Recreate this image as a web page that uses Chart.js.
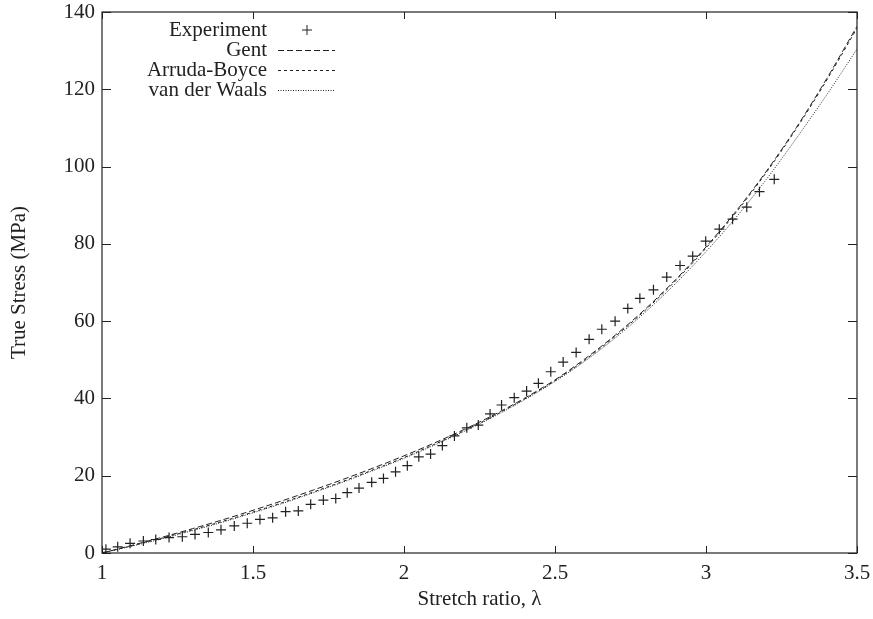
<!DOCTYPE html>
<html lang="en">
  <head>
    <meta charset="UTF-8">
    <title>True Stress vs Stretch ratio</title>
    <script src="https://cdn.jsdelivr.net/npm/chart.js"></script>
    <style>
      body { margin: 0; background: #fff; }
      #plot { display: block; }
    </style>
  </head>
  <body>
    <canvas id="plot" width="873" height="619"></canvas>
    <script>
      // experiment points
      var expStretch = [1.0, 1.013, 1.052, 1.093, 1.137, 1.178, 1.222, 1.266, 1.308, 1.352, 1.394, 1.438, 1.481,
        1.523, 1.565, 1.608, 1.650, 1.691, 1.733, 1.774, 1.812, 1.851, 1.893, 1.932, 1.972, 2.011, 2.049,
        2.088, 2.127, 2.167, 2.208, 2.246, 2.285, 2.323, 2.365, 2.406, 2.445, 2.486, 2.527, 2.570, 2.613,
        2.655, 2.699, 2.741, 2.781, 2.826, 2.870, 2.914, 2.956, 2.999, 3.044, 3.088, 3.135, 3.177, 3.226];
      var expStress = [0.2, 1.0, 1.6, 2.5, 3.1, 3.5, 4.0, 4.2, 4.8, 5.3, 6.0, 7.0, 7.7,
        8.7, 9.1, 10.7, 10.9, 12.6, 13.7, 14.1, 15.6, 16.8, 18.3, 19.3, 21.0, 22.6, 24.9,
        25.6, 27.8, 30.3, 32.4, 33.1, 36.0, 38.3, 40.2, 41.9, 43.9, 46.9, 49.4, 51.9, 55.3,
        57.9, 60.0, 63.3, 65.9, 68.1, 71.4, 74.4, 76.8, 80.7, 83.8, 86.4, 89.5, 93.5, 96.7];

      // model curves
      var modelStretch = [1.0, 1.1, 1.2, 1.3, 1.4, 1.5, 1.6, 1.7, 1.8, 1.9, 2.0, 2.1, 2.2, 2.3, 2.4,
        2.5, 2.6, 2.7, 2.8, 2.9, 3.0, 3.1, 3.2, 3.3, 3.4, 3.5];
      var gentStress = [0, 2.0, 4.1, 6.3, 8.6, 11.05, 13.6, 16.3, 19.1, 22.05, 25.15, 28.45, 32.0, 35.85, 40.1,
        44.8, 50.3, 56.4, 63.2, 70.8, 79.2, 88.5, 98.8, 110.2, 122.8, 136.3];
      var arrudaStress = [0, 1.9, 3.9, 6.0, 8.2, 10.6, 13.1, 15.8, 18.6, 21.6, 24.7, 28.1, 31.7, 35.6, 39.9,
        44.6, 50.0, 56.1, 62.9, 70.5, 78.9, 88.2, 98.5, 109.9, 122.4, 135.8];
      var waalsStress = [0, 1.8, 3.7, 5.8, 8.0, 10.4, 12.9, 15.6, 18.4, 21.4, 24.5, 27.9, 31.5, 35.4, 39.7,
        44.4, 49.7, 55.7, 62.4, 69.8, 78.0, 86.9, 96.7, 107.4, 118.6, 130.4];

      var seriesNames = ["Experiment", "Gent", "Arruda-Boyce", "van der Waals"];
      var xTicks = [1, 1.5, 2, 2.5, 3, 3.5];
      var yTicks = [0, 20, 40, 60, 80, 100, 120, 140];

      var ink = '#222';
      var fontFam = '"Liberation Serif", "DejaVu Serif", serif';
      var fontSize = 21;

      function pairs(xs, ys) {
        return xs.map(function (x, i) { return { x: x, y: ys[i] }; });
      }

      function curve(label, ys, dash) {
        return {
          label: label,
          type: 'line',
          data: pairs(modelStretch, ys),
          borderColor: ink,
          borderWidth: 1,
          borderDash: dash,
          pointRadius: 0,
          fill: false,
          cubicInterpolationMode: 'monotone'
        };
      }

      // gnuplot style frame, inward ticks and legend
      var framePlugin = {
        id: 'frame',
        afterDraw: function (chart) {
          var ctx = chart.ctx;
          var a = chart.chartArea;
          var xs = chart.scales.x, ys = chart.scales.y;
          ctx.save();
          ctx.strokeStyle = ink;
          ctx.lineWidth = 1.2;
          ctx.strokeRect(a.left, a.top, a.right - a.left, a.bottom - a.top);
          ctx.lineWidth = 1;
          ctx.beginPath();
          xTicks.forEach(function (v) {
            var px = Math.round(xs.getPixelForValue(v)) + 0.5;
            ctx.moveTo(px, a.bottom); ctx.lineTo(px, a.bottom - 7);
            ctx.moveTo(px, a.top); ctx.lineTo(px, a.top + 7);
          });
          yTicks.forEach(function (v) {
            var py = Math.round(ys.getPixelForValue(v)) + 0.5;
            ctx.moveTo(a.left, py); ctx.lineTo(a.left + 9, py);
            ctx.moveTo(a.right, py); ctx.lineTo(a.right - 9, py);
          });
          ctx.stroke();

          // legend, text right aligned, sample to the right
          ctx.font = fontSize + 'px ' + fontFam;
          ctx.fillStyle = ink;
          ctx.textAlign = 'right';
          ctx.textBaseline = 'middle';
          chart.data.datasets.forEach(function (ds, i) {
            var y = 30 + i * 20;
            ctx.fillText(ds.label, 267, y);
            ctx.beginPath();
            if (i === 0) {
              ctx.setLineDash([]);
              ctx.moveTo(302, y); ctx.lineTo(312, y);
              ctx.moveTo(307, y - 5); ctx.lineTo(307, y + 5);
            } else {
              ctx.setLineDash(ds.borderDash);
              ctx.moveTo(278, y + 0.5); ctx.lineTo(335, y + 0.5);
            }
            ctx.stroke();
          });
          ctx.restore();
        }
      };

      new Chart(document.getElementById('plot'), {
        type: 'scatter',
        data: {
          datasets: [
            {
              label: seriesNames[0],
              data: pairs(expStretch, expStress),
              pointStyle: 'cross',
              pointRadius: 5,
              pointBorderWidth: 1.2,
              borderColor: ink,
              backgroundColor: ink,
              showLine: false
            },
            curve(seriesNames[1], gentStress, [6, 3]),
            curve(seriesNames[2], arrudaStress, [3, 3]),
            curve(seriesNames[3], waalsStress, [1, 1.5])
          ]
        },
        options: {
          responsive: false,
          animation: false,
          layout: { padding: { top: 12, right: 16, left: 0, bottom: 0 } },
          plugins: {
            legend: { display: false },
            tooltip: { enabled: false }
          },
          scales: {
            x: {
              type: 'linear',
              min: 1,
              max: 3.5,
              afterBuildTicks: function (s) { s.ticks = xTicks.map(function (v) { return { value: v }; }); },
              afterFit: function (s) { s.height = 66; s.paddingLeft = 0; s.paddingRight = 0; },
              grid: { display: false, drawTicks: false },
              border: { display: false },
              ticks: {
                color: ink, padding: 8, font: { family: fontFam, size: fontSize },
                callback: function (v) { return String(v); }
              },
              title: {
                display: true,
                text: 'Stretch ratio, λ',
                color: ink,
                padding: { top: 0, bottom: 7 },
                font: { family: fontFam, size: fontSize }
              }
            },
            y: {
              type: 'linear',
              min: 0,
              max: 140,
              afterBuildTicks: function (s) { s.ticks = yTicks.map(function (v) { return { value: v }; }); },
              afterFit: function (s) { s.width = 102; s.paddingTop = 0; s.paddingBottom = 0; },
              grid: { display: false, drawTicks: false },
              border: { display: false },
              ticks: {
                color: ink, padding: 7, font: { family: fontFam, size: fontSize },
                callback: function (v) { return String(v); }
              },
              title: {
                display: true,
                text: 'True Stress (MPa)',
                color: ink,
                padding: { top: 7, bottom: 0 },
                font: { family: fontFam, size: fontSize }
              }
            }
          }
        },
        plugins: [framePlugin]
      });
    </script>
  </body>
</html>
